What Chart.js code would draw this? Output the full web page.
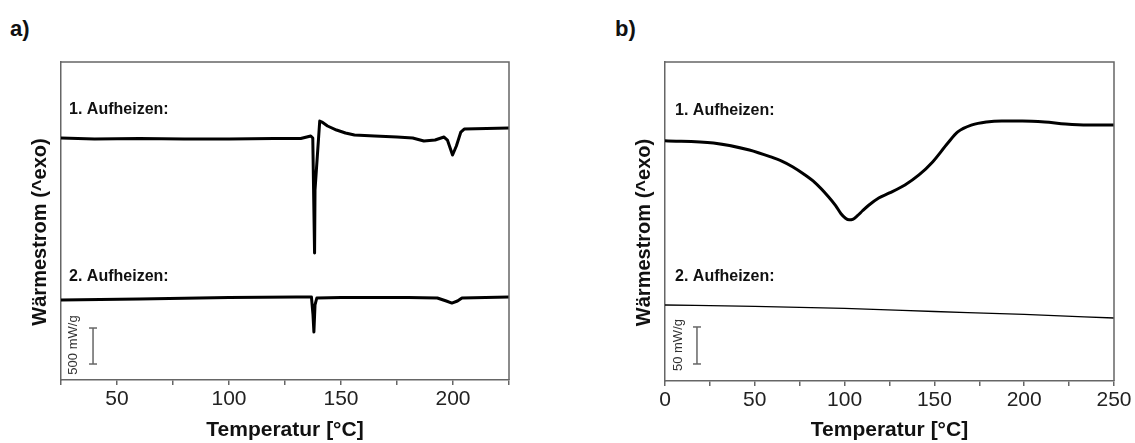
<!DOCTYPE html>
<html>
<head>
<meta charset="utf-8">
<script src="https://cdn.jsdelivr.net/npm/chart.js@4.4.1/dist/chart.umd.min.js"></script>
<style>
  body { margin: 0; background: #fff; width: 1135px; height: 443px; position: relative; overflow: hidden;
         font-family: "Liberation Sans", Arial, sans-serif; }
  .panel { position: absolute; top: 0; height: 443px; }
  .tag { position: absolute; top: 16px; font-weight: bold; font-size: 22px; color: #111; }
</style>
</head>
<body>
<div class="tag" style="left:10px">a)</div>
<div class="tag" style="left:615px">b)</div>
<div class="panel" style="left:0;width:565px"><canvas id="chartA" width="565" height="443"></canvas></div>
<div class="panel" style="left:565px;width:570px"><canvas id="chartB" width="570" height="443"></canvas></div>
<script>
// panel a) -- heat flow in mW/g, curves offset vertically as in the figure
const tempA1 = [25, 40, 60, 80, 100, 120, 132, 136.5, 137.4, 138.2, 138.4, 140.5, 141.5, 144, 148, 152, 156, 165, 175, 182, 187, 192, 196, 197.5, 199.8, 201.5, 203.5, 205, 215, 225];
const heatA1 = [3361, 3347, 3354, 3347, 3347, 3354, 3354, 3389, 3361, 1764, 2639, 3597, 3583, 3528, 3472, 3431, 3403, 3389, 3375, 3361, 3319, 3333, 3375, 3333, 3125, 3250, 3444, 3486, 3493, 3500];

const tempA2 = [25, 60, 100, 130, 136.8, 137.5, 137.9, 138.4, 139.2, 150, 180, 193, 197, 199.5, 202, 204, 225];
const heatA2 = [1111, 1125, 1146, 1153, 1153, 903, 667, 1042, 1139, 1146, 1146, 1139, 1097, 1069, 1097, 1139, 1153];

const scaleBarA = { x: 39.3, y: [222, 722], text: "500 mW/g" };

// panel b)
const tempB1 = [0, 27, 47, 59, 65, 71, 77, 83.5, 91, 95, 98, 100.5, 102.5, 104.5, 107, 110, 113.6, 119, 125, 133.6, 141.4, 149, 157.5, 163, 171, 179, 187.5, 199, 211.5, 223, 235.5, 250];
const heatB1 = [324.7, 321.6, 312.2, 302.7, 297.0, 289.5, 280.0, 268.0, 249.0, 237.0, 226.0, 220.0, 217.8, 218.5, 223.0, 230.0, 237.8, 247.3, 254.1, 264.9, 278.4, 296.0, 321.6, 336.5, 346.0, 350.0, 351.4, 351.4, 350.0, 347.3, 346.0, 346.0];

const tempB2 = [0, 50, 100, 150, 200, 250];
const heatB2 = [102.7, 100.7, 98.0, 93.9, 89.9, 85.1];

const scaleBarB = { x: 17.8, y: [23, 73], text: "50 mW/g" };

// -----------------------------------------------------------------------------

const FONT = '"Liberation Sans", Arial, sans-serif';
const axisColor = "#666";

function toPoints(xs, ys) {
  return xs.map((x, i) => ({ x, y: ys[i] }));
}

const framePlugin = {
  id: "frame",
  afterDatasetsDraw(chart, args, opts) {
    const { ctx, chartArea: a, scales } = chart;
    ctx.save();

    // top + right edge of the box
    ctx.strokeStyle = axisColor;
    ctx.lineWidth = 1.5;
    ctx.beginPath();
    ctx.moveTo(a.left, a.top);
    ctx.lineTo(a.right, a.top);
    ctx.lineTo(a.right, a.bottom);
    ctx.stroke();

    // curve labels
    ctx.fillStyle = "#111";
    ctx.font = "bold 16px " + FONT;
    ctx.textAlign = "left";
    ctx.textBaseline = "middle";
    opts.labels.forEach((l) => {
      ctx.fillText(l.text, scales.x.getPixelForValue(l.x), scales.y.getPixelForValue(l.y));
    });

    // scale bar caption
    const sb = opts.scaleText;
    ctx.save();
    ctx.translate(scales.x.getPixelForValue(sb.x), scales.y.getPixelForValue(sb.y));
    ctx.rotate(-Math.PI / 2);
    ctx.font = "13px " + FONT;
    ctx.fillStyle = "#333";
    ctx.textAlign = "center";
    ctx.fillText(sb.text, 0, 0);
    ctx.restore();

    // y title
    ctx.save();
    ctx.translate(a.left - 21, (a.top + a.bottom) / 2 + 11);
    ctx.rotate(-Math.PI / 2);
    ctx.font = "bold 20px " + FONT;
    ctx.fillStyle = "#111";
    ctx.textAlign = "center";
    ctx.fillText("Wärmestrom (^exo)", 0, 0);
    ctx.restore();

    ctx.restore();
  },
};

function makeChart(elem, cfg) {
  return new Chart(elem, {
    type: "line",
    data: {
      datasets: [
        {
          data: toPoints(cfg.t1, cfg.h1),
          borderColor: "#000",
          borderWidth: 3,
          cubicInterpolationMode: cfg.smooth ? "monotone" : "default",
          tension: 0,
          borderJoinStyle: "round",
          pointRadius: 0,
        },
        {
          data: toPoints(cfg.t2, cfg.h2),
          borderColor: "#000",
          borderWidth: cfg.thin ? 1.3 : 3,
          cubicInterpolationMode: cfg.smooth ? "monotone" : "default",
          tension: 0,
          borderJoinStyle: "round",
          pointRadius: 0,
        },
        {
          data: cfg.bar.y.map((y) => ({ x: cfg.bar.x, y })),
          borderColor: axisColor,
          borderWidth: 1.5,
          pointStyle: "line",
          pointRadius: 4,
          pointBorderWidth: 1.5,
          pointBorderColor: axisColor,
        },
      ],
    },
    options: {
      responsive: false,
      animation: false,
      layout: { padding: { top: 62, right: cfg.padRight, left: 0, bottom: 0 } },
      plugins: {
        legend: { display: false },
        tooltip: { enabled: false },
        frame: {
          labels: cfg.labels,
          scaleText: cfg.scaleText,
        },
      },
      scales: {
        x: {
          type: "linear",
          min: cfg.xmin,
          max: cfg.xmax,
          afterFit: (s) => { s.height = 443 - cfg.bottom; },
          ticks: {
            stepSize: 25,
            autoSkip: false,
            maxRotation: 0,
            padding: 2,
            color: "#222",
            font: { family: FONT, size: 21 },
            callback: (v) => (v % 50 === 0 ? String(v) : ""),
          },
          grid: { drawOnChartArea: false, drawTicks: true, tickLength: 5, color: axisColor, lineWidth: 1.5 },
          border: { color: axisColor, width: 1.5 },
          title: {
            display: true,
            text: "Temperatur [°C]",
            color: "#111",
            font: { family: FONT, size: 21, weight: "bold" },
            padding: { top: 0, bottom: 0 },
          },
        },
        y: {
          type: "linear",
          min: cfg.ymin,
          max: cfg.ymax,
          afterFit: (s) => { s.width = cfg.left; },
          ticks: { display: false },
          grid: { display: false },
          border: { color: axisColor, width: 1.5 },
        },
      },
    },
    plugins: [framePlugin],
  });
}

const chartA = makeChart(document.getElementById("chartA"), {
  t1: tempA1, h1: heatA1, t2: tempA2, h2: heatA2,
  bar: scaleBarA, smooth: false, thin: false,
  xmin: 25, xmax: 225, ymin: 0, ymax: 4417,
  left: 61, bottom: 380, padRight: 565 - 509,
  labels: [
    { text: "1. Aufheizen:", x: 28.6, y: 3750 },
    { text: "2. Aufheizen:", x: 28.6, y: 1431 },
  ],
  scaleText: { text: scaleBarA.text, x: 30.4, y: 486 },
});

const chartB = makeChart(document.getElementById("chartB"), {
  t1: tempB1, h1: heatB1, t2: tempB2, h2: heatB2,
  bar: scaleBarB, smooth: true, thin: true,
  xmin: 0, xmax: 250, ymin: 0, ymax: 431,
  left: 100, bottom: 381, padRight: 570 - 549,
  labels: [
    { text: "1. Aufheizen:", x: 5.6, y: 366 },
    { text: "2. Aufheizen:", x: 5.6, y: 140.5 },
  ],
  scaleText: { text: scaleBarB.text, x: 7.2, y: 48.6 },
});
</script>
</body>
</html>
